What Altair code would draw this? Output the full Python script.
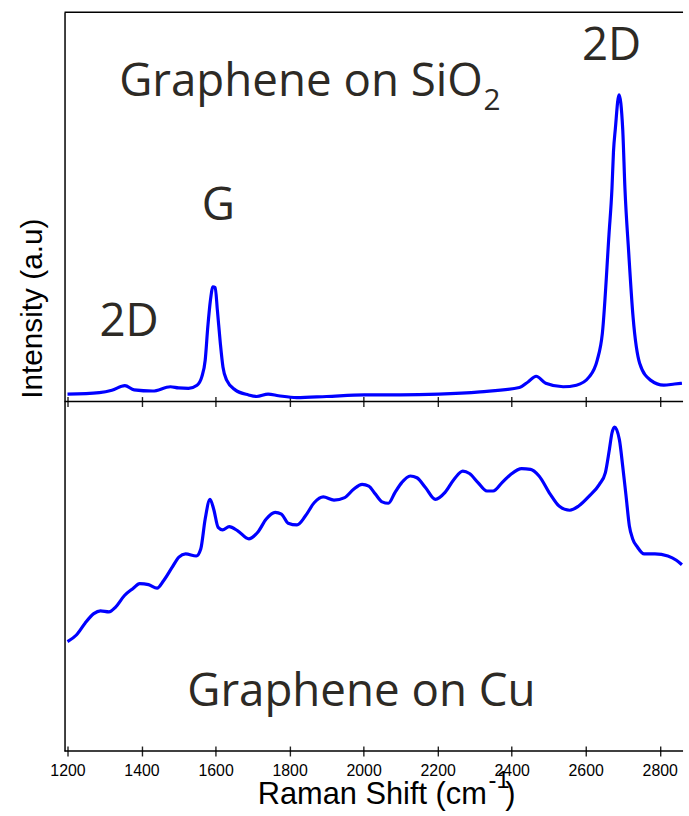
import altair as alt
import pandas as pd

# ---- data ----
top_shift = [1200, 1286, 1320, 1355, 1380, 1430, 1478, 1500, 1527, 1550, 1563, 1572, 1579, 1586,
             1593, 1599, 1605, 1613, 1620, 1630, 1653, 1689, 1711, 1742, 1770, 1819, 1900, 2002,
             2100, 2203, 2315, 2421, 2445, 2466, 2492, 2539, 2575, 2610, 2631, 2645, 2663, 2671,
             2675, 2680, 2690, 2700, 2706, 2716, 2728, 2746, 2775, 2811, 2840, 2860]
top_int = [1.9, 2.3, 2.9, 4.1, 3.0, 2.7, 3.8, 3.5, 3.4, 4.2, 6.4, 10.6, 19.1, 25.9,
           29.5, 29.3, 23.4, 14.9, 8.9, 5.5, 3.0, 1.7, 1.3, 1.9, 1.5, 1.0, 1.3, 1.7,
           1.7, 1.9, 2.5, 3.6, 5.1, 6.5, 4.7, 3.8, 4.2, 6.4, 10.6, 17.5, 43.0, 54.8,
           64.1, 70.0, 78.8, 70.0, 54.8, 38.6, 21.7, 9.8, 5.5, 4.2, 4.5, 4.7]

bot_shift = [1200, 1224, 1247, 1271, 1289, 1312, 1330, 1354, 1377, 1395, 1419, 1442, 1460, 1483,
             1501, 1519, 1548, 1560, 1572, 1585, 1595, 1607, 1619, 1637, 1660, 1690, 1714, 1737,
             1761, 1778, 1796, 1820, 1843, 1867, 1891, 1920, 1949, 1973, 1996, 2014, 2032, 2050,
             2067, 2085, 2103, 2126, 2144, 2167, 2194, 2220, 2244, 2268, 2286, 2309, 2333, 2350,
             2374, 2398, 2427, 2451, 2474, 2504, 2528, 2557, 2581, 2610, 2637, 2653, 2664, 2671,
             2678, 2691, 2700, 2709, 2718, 2727, 2740, 2758, 2787, 2822, 2845, 2860]
bot_int = [31.3, 33.2, 36.5, 39.3, 40.1, 39.8, 41.2, 44.5, 46.5, 47.9, 47.6, 46.6, 48.8, 52.6,
           55.5, 56.4, 55.8, 57.8, 66.4, 72.0, 69.2, 64.0, 63.3, 64.2, 63.0, 60.7, 62.6, 66.4,
           68.3, 67.8, 65.2, 64.7, 67.3, 71.1, 72.7, 71.8, 72.5, 74.9, 76.3, 75.8, 73.5, 71.3,
           70.9, 74.0, 76.8, 78.7, 78.2, 75.4, 72.0, 74.0, 77.7, 80.1, 79.4, 76.8, 74.4, 74.4,
           76.8, 79.2, 80.8, 80.6, 78.7, 73.5, 70.1, 68.9, 70.1, 73.0, 76.3, 79.6, 86.3, 91.0,
           92.7, 89.1, 81.5, 73.0, 64.4, 60.7, 58.3, 56.4, 56.4, 55.8, 54.6, 53.3]

tick_values = [1200, 1400, 1600, 1800, 2000, 2200, 2400, 2600, 2800]

# annotation labels (anchored in data units)
big_top_text = ["Graphene on SiO", "G", "2D", "2D"]
big_top_shift = [1339.5, 1607.7, 1366.3, 2669.9]
big_top_int = [78.4, 46.7, 16.9, 87.8]
sub_text = ["2"]
sub_shift = [2323.9]
sub_int = [74.8]
bot_text = ["Graphene on Cu"]
bot_text_shift = [1994]
bot_text_int = [12.9]

# ---- layout constants ----
W = 623
H_TOP = 392
H_BOT = 352
BLUE = "#0000ff"
INK = "#2d2a25"
x_domain = [1192, 2863]

top_df = pd.DataFrame({"shift": top_shift, "intensity": top_int})
bot_df = pd.DataFrame({"shift": bot_shift, "intensity": bot_int})
one = pd.DataFrame({"k": [0]})

xscale = alt.Scale(domain=x_domain, nice=False, zero=False)
yscale = alt.Scale(domain=[0, 100], nice=False, zero=False)


def x_axis(labels):
    return alt.Axis(values=tick_values, labels=labels, title="", domain=False, ticks=True,
                    tickSize=10, offset=-5, tickColor="#222222", tickWidth=1.4, grid=False,
                    format="d", labelFont="Liberation Sans", labelFontSize=16,
                    labelColor="#000000", labelPadding=7, labelFlush=False)


def y_axis(title, **kw):
    return alt.Axis(title=title, labels=False, ticks=False, domain=True,
                    domainColor="#000000", domainWidth=1.5, grid=False, **kw)


def rule_h(ypix):
    return alt.Chart(one).mark_rule(color="#000000", strokeWidth=1.5).encode(
        x=alt.value(0), x2=alt.value(W), y=alt.value(ypix))


def text_layer(texts, shifts, ints, size, align, xaxis, yaxis):
    df = pd.DataFrame({"label": texts, "shift": shifts, "intensity": ints})
    return alt.Chart(df).mark_text(font="Open Sans", fontSize=size, color=INK, align=align,
                                   baseline="alphabetic").encode(
        x=alt.X("shift:Q", scale=xscale, axis=xaxis),
        y=alt.Y("intensity:Q", scale=yscale, axis=yaxis),
        text="label:N")


# ---- top panel ----
top_y_axis = y_axis("Intensity (a.u)", titleFont="Liberation Sans", titleFontSize=30,
                    titleFontWeight="normal", titleColor="#000000", titleX=-23.3, titleY=298,
                    titleAngle=270, titleAlign="center", titleBaseline="alphabetic")
top_x_axis = x_axis(False)

top_line = alt.Chart(top_df).mark_line(color=BLUE, strokeWidth=3.2, interpolate="monotone").encode(
    x=alt.X("shift:Q", scale=xscale, axis=top_x_axis),
    y=alt.Y("intensity:Q", scale=yscale, axis=top_y_axis),
)

left_anchor = alt.Chart(one).mark_rule(strokeWidth=0, strokeOpacity=0).encode(
    x=alt.value(-65), y=alt.value(0), y2=alt.value(10))

top_texts = [
    text_layer(big_top_text[:1], big_top_shift[:1], big_top_int[:1], 46, "left", top_x_axis, top_y_axis),
    text_layer(big_top_text[1:], big_top_shift[1:], big_top_int[1:], 46, "center", top_x_axis, top_y_axis),
    text_layer(sub_text, sub_shift, sub_int, 30, "left", top_x_axis, top_y_axis),
]

top = alt.layer(top_line, *top_texts, rule_h(0), rule_h(H_TOP), left_anchor).properties(
    width=W, height=H_TOP)

# ---- bottom panel ----
bot_x_axis = x_axis(True)
bot_y_axis = y_axis("")

bot_line = alt.Chart(bot_df).mark_line(color=BLUE, strokeWidth=3.2, interpolate="monotone").encode(
    x=alt.X("shift:Q", scale=xscale, axis=bot_x_axis),
    y=alt.Y("intensity:Q", scale=yscale, axis=bot_y_axis),
)

xt_main = alt.Chart(one).mark_text(font="Liberation Sans", fontSize=31, color="#000000",
                                   align="left", baseline="alphabetic", text="Raman Shift (cm").encode(
    x=alt.value(194.6), y=alt.value(405.5))
xt_sup = alt.Chart(one).mark_text(font="Liberation Sans", fontSize=24, color="#000000",
                                  align="left", baseline="alphabetic", text="-1").encode(
    x=alt.value(427), y=alt.value(389.5))
xt_par = alt.Chart(one).mark_text(font="Liberation Sans", fontSize=31, color="#000000",
                                  align="left", baseline="alphabetic", text=")").encode(
    x=alt.value(444), y=alt.value(405.5))

bottom = alt.layer(
    bot_line,
    text_layer(bot_text, bot_text_shift, bot_text_int, 46, "center", bot_x_axis, bot_y_axis),
    rule_h(H_BOT), xt_main, xt_sup, xt_par,
).properties(width=W, height=H_BOT)

chart = alt.vconcat(top, bottom, spacing=0, bounds="flush").properties(
    padding={"left": 0, "top": 8.5, "right": 0, "bottom": 0}
).configure_view(stroke=None).configure_axis(grid=False)

chart.save("out.html", embed_options={"renderer": "svg", "actions": False})
